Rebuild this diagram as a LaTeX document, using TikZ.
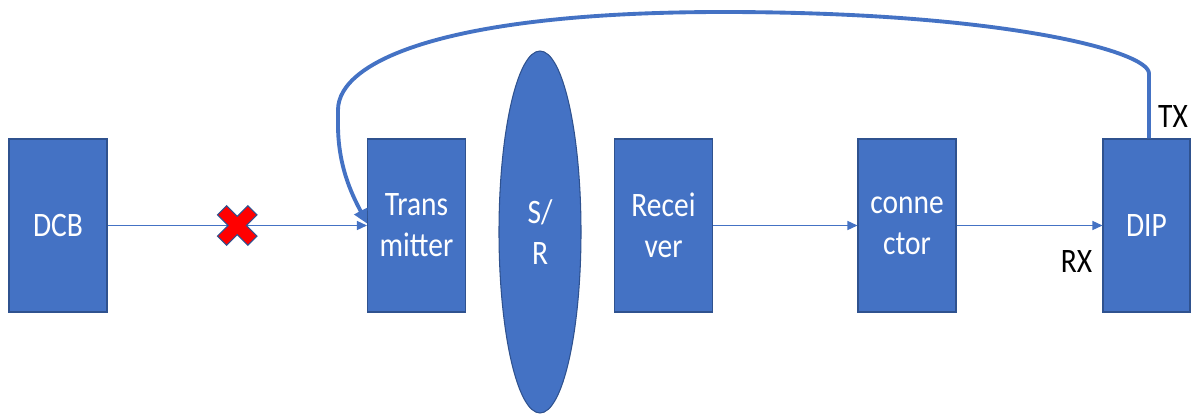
\documentclass[tikz,border=0pt]{standalone}
\usepackage{fontspec}
\setmainfont{Carlito}[FakeStretch=0.86]
\usepackage{tikz}
\usetikzlibrary{arrows.meta,calc,positioning,shapes.geometric}

\definecolor{boxblue}{HTML}{4472C4}
\definecolor{edgeblue}{HTML}{2F528F}

\begin{document}
\begin{tikzpicture}[node distance=2cm,on grid,
    block/.style={rectangle,fill=boxblue,draw=edgeblue,line width=0.6pt,
      minimum width=1.96cm,minimum height=3.46cm,inner sep=0pt,
      text=white,align=center,font=\fontsize{19.5}{23.4}\selectfont},
    link/.style={boxblue,line width=0.8pt,-{Triangle[length=0.2cm,width=0.18cm]}},
    lbl/.style={text=black,font=\fontsize{19.5}{23.4}\selectfont}]
   \useasboundingbox (0,0) rectangle (23.86,8.3);
   \node[block] (dcb) at (1.16,3.79) {DCB};
   \node[block] (tx) [right=7.17cm of dcb] {Trans\\mitter};
   \node[block,ellipse,minimum width=1.64cm,minimum height=7.24cm]
     (sr) [right=2.47cm of tx,yshift=-0.13cm] {S/\\R};
   \node[block] (rx) [right=4.94cm of tx] {Recei\\ver};
   \node[block] (con) [right=4.87cm of rx] {conne\\ctor};
   \node[block,minimum width=1.74cm] (dip) [right=4.79cm of con] {DIP};
   \node[lbl] (txlbl) at ([xshift=0.53cm,yshift=0.44cm]dip.north) {TX};
   \node[lbl] (rxlbl) at ([xshift=-0.52cm,yshift=-0.72cm]dip.west) {RX};
   \path[link]
    (dcb) edge (tx)
    (rx) edge (con)
    (con) edge (dip);
   % feedback from TX back to the transmitter
   \coordinate (up) at ([xshift=0.05cm]dip.north);
   \draw[boxblue,line width=2.2pt,-{Triangle[length=0.28cm,width=0.28cm]}]
     (up) -- ++(0,1.3) .. controls ++(0,0.45) and (20,8.06) .. (14.46,8.06)
     .. controls (9,8.06) and (6.76,7.1) .. (6.76,6.1) -- (6.76,5.8)
     .. controls (6.76,4.9) and (7.1,4.3) .. ([yshift=0.04cm]tx.west);
   % broken link
   \coordinate (cut) at ($(dcb.east)!0.5!(tx.west)$);
   \begin{scope}[shift={(cut)},rotate=45]
     \fill[red,draw=edgeblue,line width=0.6pt]
       (0.13,0.43) -- (0.13,0.13) -- (0.43,0.13) -- (0.43,-0.13)
       -- (0.13,-0.13) -- (0.13,-0.43) -- (-0.13,-0.43) -- (-0.13,-0.13)
       -- (-0.43,-0.13) -- (-0.43,0.13) -- (-0.13,0.13) -- (-0.13,0.43) -- cycle;
   \end{scope}
\end{tikzpicture}
\end{document}
